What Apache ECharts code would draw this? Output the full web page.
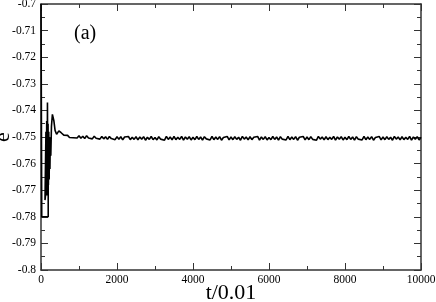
<!DOCTYPE html>
<html>
<head>
<meta charset="utf-8">
<script src="https://cdn.jsdelivr.net/npm/echarts@6/dist/echarts.min.js"></script>
<style>html,body{margin:0;padding:0;background:#fff}#c{width:436px;height:302px}</style>
</head>
<body>
<div id="c"></div>
<script>
// Tick labels
var xTicks = [0, 2000, 4000, 6000, 8000, 10000];
var yTicks = [-0.8, -0.79, -0.78, -0.77, -0.76, -0.75, -0.74, -0.73, -0.72, -0.71, -0.7];

// Early transient (t/0.01, e)
var tTransient = [0, 20, 190, 190, 105, 130, 140, 150, 160, 170, 178, 186, 195, 205, 215, 225, 235, 245, 258, 275, 300, 318, 340, 370, 410, 440, 470, 500, 530, 560];
var eTransient = [-0.700, -0.780, -0.780, -0.763, -0.7737, -0.748, -0.771, -0.744, -0.772, -0.737, -0.770, -0.745, -0.768, -0.748, -0.766, -0.750, -0.762, -0.751, -0.757, -0.746, -0.7415, -0.7412, -0.744, -0.7475, -0.7490, -0.7488, -0.7477, -0.7474, -0.7484, -0.7490];

// Steady part, sampled every 50 from t=600 to t=10000
var steadyStart = 600, steadyStep = 50;
var eSteady = [
 -0.7493,-0.7500,-0.7494,-0.7502,-0.7495,-0.7503,-0.7496,-0.7504,-0.7495,-0.7505,
 -0.7497,-0.7506,-0.7495,-0.7504,-0.7498,-0.7507,-0.7497,-0.7505,-0.7498,-0.7508,
 -0.7498,-0.7507,-0.7499,-0.7509,-0.7498,-0.7506,-0.7500,-0.7510,-0.7499,-0.7508,
 -0.7499,-0.7511,-0.7500,-0.7507,-0.7498,-0.7510,-0.7501,-0.7509,-0.7499,-0.7511,
 -0.7500,-0.7508,-0.7499,-0.7512,-0.7501,-0.7509,-0.7498,-0.7510,-0.7502,-0.7511,
 -0.7499,-0.7508,-0.7501,-0.7512,-0.7498,-0.7509,-0.7500,-0.7511,-0.7498,-0.7510,
 -0.7501,-0.7509,-0.7498,-0.7512,-0.7500,-0.7508,-0.7499,-0.7511,-0.7501,-0.7510,
 -0.7498,-0.7509,-0.7500,-0.7512,-0.7499,-0.7507,-0.7501,-0.7511,-0.7498,-0.7510,
 -0.7500,-0.7509,-0.7499,-0.7512,-0.7502,-0.7508,-0.7498,-0.7511,-0.7500,-0.7510,
 -0.7499,-0.7509,-0.7501,-0.7512,-0.7498,-0.7508,-0.7500,-0.7511,-0.7499,-0.7510,
 -0.7501,-0.7508,-0.7498,-0.7512,-0.7500,-0.7509,-0.7499,-0.7511,-0.7502,-0.7510,
 -0.7498,-0.7509,-0.7500,-0.7512,-0.7499,-0.7508,-0.7501,-0.7511,-0.7498,-0.7510,
 -0.7500,-0.7509,-0.7499,-0.7512,-0.7501,-0.7508,-0.7498,-0.7511,-0.7500,-0.7510,
 -0.7499,-0.7509,-0.7502,-0.7512,-0.7498,-0.7508,-0.7500,-0.7511,-0.7499,-0.7510,
 -0.7501,-0.7509,-0.7498,-0.7512,-0.7500,-0.7508,-0.7499,-0.7511,-0.7501,-0.7510,
 -0.7498,-0.7509,-0.7500,-0.7512,-0.7499,-0.7508,-0.7501,-0.7511,-0.7498,-0.7510,
 -0.7500,-0.7509,-0.7499,-0.7512,-0.7502,-0.7508,-0.7498,-0.7511,-0.7500,-0.7510,
 -0.7499,-0.7509,-0.7501,-0.7512,-0.7498,-0.7508,-0.7500,-0.7511,-0.7499,-0.7510,
 -0.7501,-0.7509,-0.7498,-0.7512,-0.7500,-0.7508,-0.7499,-0.7511,-0.7501
];

var data = [];
for (var i = 0; i < tTransient.length; i++) data.push([tTransient[i], eTransient[i]]);
for (var j = 0; j < eSteady.length; j++) data.push([steadyStart + j * steadyStep, eSteady[j]]);

var FONT = 'Liberation Serif';
var AX = '#333';

function fmtY(v) {
  for (var k = 0; k < yTicks.length; k++) if (Math.abs(yTicks[k] - v) < 1e-9) return String(yTicks[k]);
  return '';
}
function fmtX(v) {
  for (var k = 0; k < xTicks.length; k++) if (Math.abs(xTicks[k] - v) < 1e-6) return String(xTicks[k]);
  return '';
}

function xAx(pos, main) {
  return {
    type: 'value', position: pos, min: 0, max: 10000, interval: 2000,
    axisLine: { show: true, onZero: false, lineStyle: { color: AX, width: 1.5 } },
    axisTick: { show: true, inside: true, length: 7, lineStyle: { color: AX, width: 1 } },
    minorTick: { show: true, splitNumber: 2, length: 4, lineStyle: { color: AX, width: 1 } },
    axisLabel: { show: main, formatter: fmtX, fontFamily: FONT, fontSize: 11.5, color: '#000', margin: 4, hideOverlap: false },
    splitLine: { show: false },
    name: main ? 't/0.01' : '', nameLocation: 'middle', nameGap: 12, nameMoveOverlap: false,
    nameTextStyle: { fontFamily: FONT, fontSize: 22, color: '#000' }
  };
}
function yAx(pos, main) {
  return {
    type: 'value', position: pos, min: -0.8, max: -0.7, interval: 0.01,
    axisLine: { show: true, onZero: false, lineStyle: { color: AX, width: 1.5 } },
    axisTick: { show: true, inside: true, length: 7, lineStyle: { color: AX, width: 1 } },
    minorTick: { show: true, splitNumber: 2, length: 4, lineStyle: { color: AX, width: 1 } },
    axisLabel: { show: main, formatter: fmtY, fontFamily: FONT, fontSize: 11.5, color: '#000', margin: 5, hideOverlap: false },
    splitLine: { show: false },
    name: main ? 'e' : '', nameLocation: 'middle', nameGap: 27, nameRotate: 90, nameMoveOverlap: false,
    nameTextStyle: { fontFamily: FONT, fontSize: 22, color: '#000' }
  };
}

var chart = echarts.init(document.getElementById('c'), null, { renderer: 'canvas' });
chart.setOption({
  animation: false,
  backgroundColor: '#fff',
  grid: { left: 41, right: 15, top: 4, bottom: 32, containLabel: false, outerBoundsMode: 'none' },
  xAxis: [xAx('bottom', true), xAx('top', false)],
  yAxis: [yAx('left', true), yAx('right', false)],
  graphic: [{
    type: 'text', left: 74, top: 24,
    style: { text: '(a)', font: '20px "Liberation Serif"', fill: '#000' }
  }],
  series: [{
    type: 'line', xAxisIndex: 0, yAxisIndex: 0, data: data,
    showSymbol: false, symbol: 'none',
    lineStyle: { color: '#000', width: 1.6 },
    clip: true
  }]
});
</script>
</body>
</html>
